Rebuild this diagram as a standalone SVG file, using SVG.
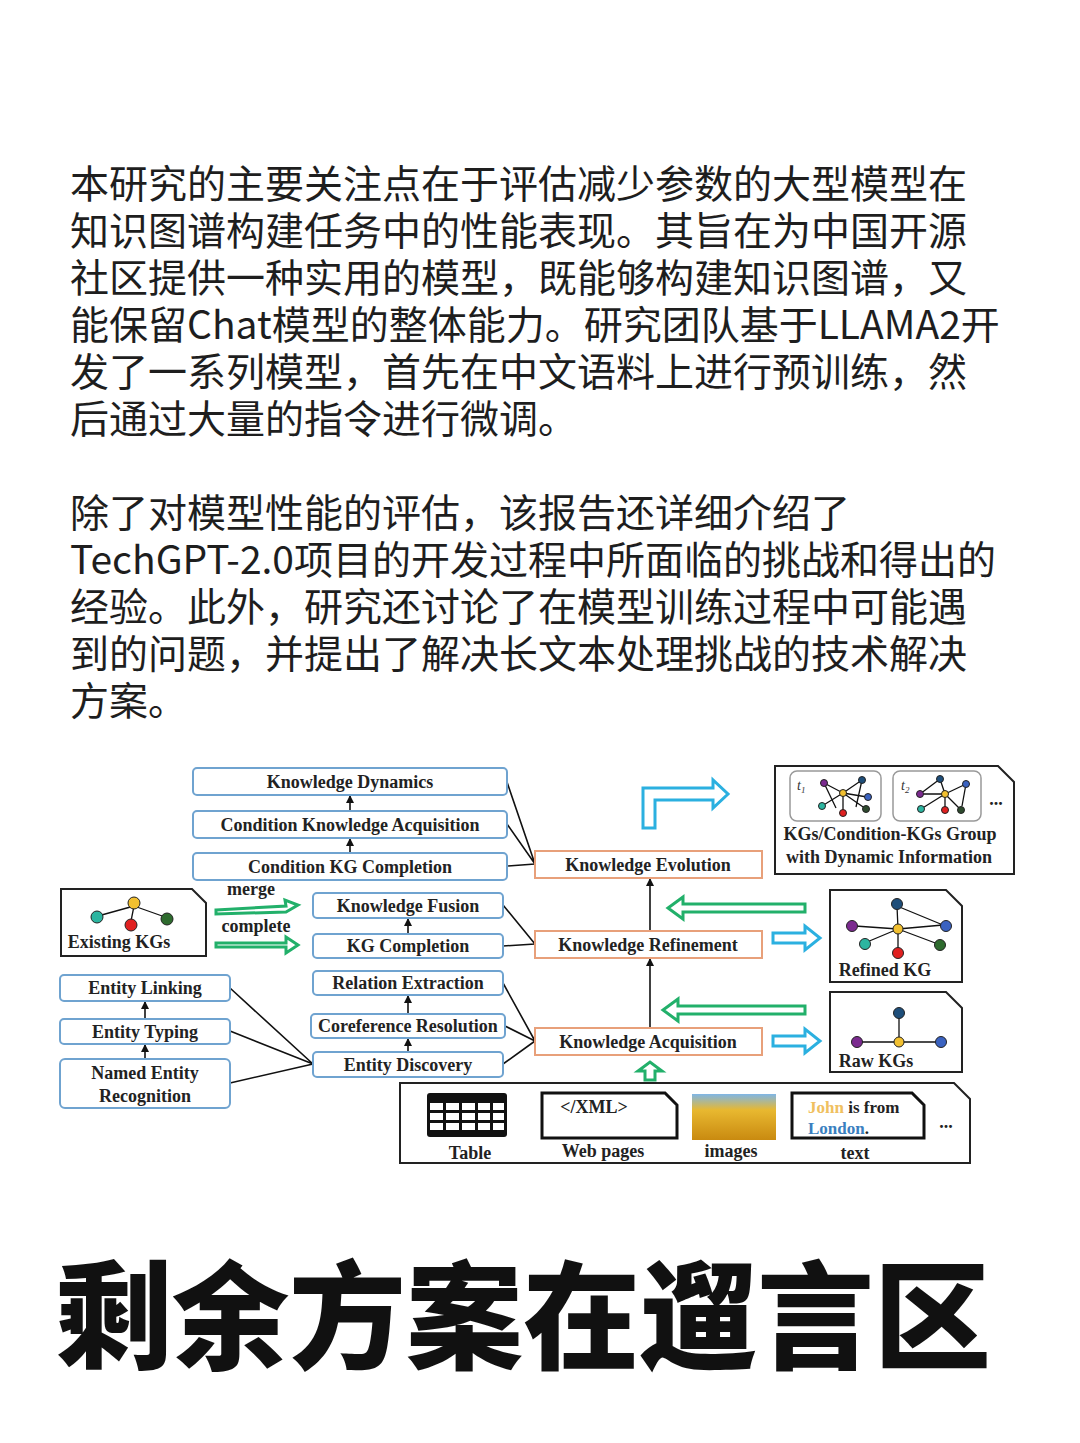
<svg xmlns="http://www.w3.org/2000/svg" width="1080" height="1443" viewBox="0 0 1080 1443">
<style>
.cn{font-family:"Noto Sans CJK SC","Noto Sans",sans-serif;font-size:39px;fill:#1e1e1e}
.big{font-family:"Noto Sans CJK SC",sans-serif;font-size:117px;font-weight:900;fill:#111}
.t{font-family:"Liberation Serif","Times New Roman",serif;font-weight:bold;font-size:18px;fill:#222;text-anchor:middle}
.bb{fill:#fff;stroke:#6fa3d0;stroke-width:2}
.ob{fill:#fff;stroke:#e8a07a;stroke-width:2}
.blk{fill:#fff;stroke:#222;stroke-width:2}
.ln{stroke:#111;stroke-width:1.6;fill:none}
.ga{fill:#fff;stroke:#22b06a;stroke-width:3}
.ca{fill:#fff;stroke:#2bb0e0;stroke-width:3}
.e{stroke:#111;stroke-width:1.3}
</style>
<defs>
<marker id="ah" markerWidth="8" markerHeight="8" refX="7" refY="4" orient="auto" markerUnits="userSpaceOnUse"><path d="M0,0 L8,4 L0,8 z" fill="#111"/></marker>
<linearGradient id="fl" x1="0" y1="0" x2="0" y2="1"><stop offset="0" stop-color="#7fb6e6"/><stop offset="0.35" stop-color="#e8b830"/><stop offset="1" stop-color="#c98a10"/></linearGradient>
</defs>
<rect width="1080" height="1443" fill="#fff"/>
<g id="para">
<text class="cn" x="70" y="198">本研究的主要关注点在于评估减少参数的大型模型在</text>
<text class="cn" x="70" y="245">知识图谱构建任务中的性能表现。其旨在为中国开源</text>
<text class="cn" x="70" y="292">社区提供一种实用的模型，既能够构建知识图谱，又</text>
<text class="cn" x="70" y="339">能保留Chat模型的整体能力。研究团队基于LLAMA2开</text>
<text class="cn" x="70" y="386">发了一系列模型，首先在中文语料上进行预训练，然</text>
<text class="cn" x="70" y="433">后通过大量的指令进行微调。</text>
<text class="cn" x="70" y="527">除了对模型性能的评估，该报告还详细介绍了</text>
<text class="cn" x="70" y="574">TechGPT-2.0项目的开发过程中所面临的挑战和得出的</text>
<text class="cn" x="70" y="621">经验。此外，研究还讨论了在模型训练过程中可能遇</text>
<text class="cn" x="70" y="668">到的问题，并提出了解决长文本处理挑战的技术解决</text>
<text class="cn" x="70" y="715">方案。</text>
</g>
<g id="connectors">
<path class="ln" d="M507,782 L535,864 M507,824 L535,864 M507,866 L535,864"/>
<path class="ln" d="M503,905 L535,944 M503,946 L535,944"/>
<path class="ln" d="M503,983 L535,1041 M505,1026 L535,1041 M503,1064 L535,1041"/>
<path class="ln" d="M230,988 L313,1064 M230,1031 L313,1064 M230,1083 L313,1064"/>
<path class="ln" marker-end="url(#ah)" d="M350,811 L350,796"/>
<path class="ln" marker-end="url(#ah)" d="M350,853 L350,839"/>
<path class="ln" marker-end="url(#ah)" d="M408,934 L408,919"/>
<path class="ln" marker-end="url(#ah)" d="M408,1014 L408,996"/>
<path class="ln" marker-end="url(#ah)" d="M408,1052 L408,1039"/>
<path class="ln" marker-end="url(#ah)" d="M145,1019 L145,1002"/>
<path class="ln" marker-end="url(#ah)" d="M145,1059 L145,1045"/>
<path class="ln" marker-end="url(#ah)" d="M650,1028 L650,959"/>
<path class="ln" marker-end="url(#ah)" d="M650,931 L650,879"/>
<polygon class="ga" points="216,910 286,906 285,900 298,905 286,912 286,912 216,914"/>
<polygon class="ga" points="216,943 286,943 286,937 298,945 286,953 286,947 216,947"/>
<polygon class="ga" points="805,904 683,904 683,897 668,908 683,919 683,912 805,912"/>
<polygon class="ga" points="805,1006 678,1006 678,999 663,1010 678,1021 678,1014 805,1014"/>
<polygon class="ca" points="773,933 805,933 805,926 820,938 805,950 805,943 773,943"/>
<polygon class="ca" points="773,1036 805,1036 805,1029 820,1041 805,1053 805,1046 773,1046"/>
<polygon class="ga" points="645,1080 655,1080 655,1071 662,1071 650,1062 638,1071 645,1071"/>
<polygon class="ca" points="643,828 655,828 655,800 713,800 713,808 728,794 713,780 713,788 643,788"/>
</g>
<g id="n-kd"><rect class="bb" x="193" y="768" width="314" height="27" rx="4"/><text class="t" x="350" y="788">Knowledge Dynamics</text></g>
<g id="n-cka"><rect class="bb" x="193" y="811" width="314" height="27" rx="4"/><text class="t" x="350" y="831">Condition Knowledge Acquisition</text></g>
<g id="n-ckc"><rect class="bb" x="193" y="853" width="314" height="27" rx="4"/><text class="t" x="350" y="873">Condition KG Completion</text></g>
<g id="n-kf"><rect class="bb" x="313" y="893" width="190" height="25" rx="4"/><text class="t" x="408" y="912">Knowledge Fusion</text></g>
<g id="n-kgc"><rect class="bb" x="313" y="934" width="190" height="24" rx="4"/><text class="t" x="408" y="952">KG Completion</text></g>
<g id="n-re"><rect class="bb" x="313" y="971" width="190" height="24" rx="4"/><text class="t" x="408" y="989">Relation Extraction</text></g>
<g id="n-cr"><rect class="bb" x="311" y="1014" width="194" height="24" rx="4"/><text class="t" x="408" y="1032">Coreference Resolution</text></g>
<g id="n-ed"><rect class="bb" x="313" y="1052" width="190" height="25" rx="4"/><text class="t" x="408" y="1071">Entity Discovery</text></g>
<g id="n-el"><rect class="bb" x="60" y="975" width="170" height="26" rx="4"/><text class="t" x="145" y="994">Entity Linking</text></g>
<g id="n-et"><rect class="bb" x="60" y="1019" width="170" height="25" rx="4"/><text class="t" x="145" y="1038">Entity Typing</text></g>
<g id="n-ner"><rect class="bb" x="60" y="1059" width="170" height="49" rx="5"/><text class="t" x="145" y="1079">Named Entity</text><text class="t" x="145" y="1102">Recognition</text></g>
<g id="n-ke"><rect class="ob" x="535" y="851" width="227" height="27"/><text class="t" x="648" y="871">Knowledge Evolution</text></g>
<g id="n-kr"><rect class="ob" x="535" y="931" width="227" height="27"/><text class="t" x="648" y="951">Knowledge Refinement</text></g>
<g id="n-ka"><rect class="ob" x="535" y="1028" width="227" height="27"/><text class="t" x="648" y="1048">Knowledge Acquisition</text></g>
<g id="labels"><text class="t" x="251" y="895">merge</text><text class="t" x="256" y="932">complete</text></g>
<g id="n-existing">
<path class="blk" d="M61,889 L192,889 L206,903 L206,956 L61,956 Z"/>
<path class="e" d="M134,906 L98,916 M134,906 L131,921 M134,906 L165,917"/>
<circle cx="134" cy="903" r="6" fill="#f2c030" stroke="#222"/><circle cx="97" cy="917" r="6" fill="#2cb5a0" stroke="#222"/><circle cx="131" cy="925" r="6" fill="#e02020" stroke="#222"/><circle cx="167" cy="919" r="6" fill="#2e6b2e" stroke="#222"/>
<text class="t" x="119" y="948">Existing KGs</text>
</g>
<g id="n-group">
<path class="blk" d="M775,766 L998,766 L1014,782 L1014,874 L775,874 Z"/>
<rect x="790" y="771" width="91" height="50" rx="7" fill="#fff" stroke="#999" stroke-width="1.5"/>
<rect x="893" y="771" width="88" height="50" rx="7" fill="#fff" stroke="#999" stroke-width="1.5"/>
<text x="797" y="790" font-family="Liberation Serif,serif" font-style="italic" font-size="14" fill="#333">t<tspan font-size="9" dy="3">1</tspan></text>
<text x="901" y="790" font-family="Liberation Serif,serif" font-style="italic" font-size="14" fill="#333">t<tspan font-size="9" dy="3">2</tspan></text>
<path class="e" d="M843,793 L824,783 M843,793 L822,806 M843,793 L843,813 M843,793 L862,780 M843,793 L867,797 M843,793 L866,809 M824,783 L836,808 M862,780 L856,807"/>
<circle cx="843" cy="793" r="3.5" fill="#f2c030" stroke="#222"/><circle cx="824" cy="783" r="3.5" fill="#7b2a8f" stroke="#222"/><circle cx="822" cy="806" r="3.5" fill="#2cb5a0" stroke="#222"/><circle cx="843" cy="813" r="3.5" fill="#e02020" stroke="#222"/><circle cx="862" cy="780" r="3.5" fill="#1e4e7a" stroke="#222"/><circle cx="868" cy="797" r="3.5" fill="#3a62c0" stroke="#222"/><circle cx="866" cy="809" r="3.5" fill="#2e4a2e" stroke="#222"/>
<path class="e" d="M945,794 L920,794 M945,794 L921,809 M945,794 L945,810 M945,794 L940,779 M945,794 L966,784 M945,794 L961,810 M920,794 L940,779 M966,784 L962,806"/>
<circle cx="945" cy="794" r="3.5" fill="#f2c030" stroke="#222"/><circle cx="920" cy="794" r="3.5" fill="#7b2a8f" stroke="#222"/><circle cx="921" cy="809" r="3.5" fill="#2cb5a0" stroke="#222"/><circle cx="945" cy="810" r="3.5" fill="#e02020" stroke="#222"/><circle cx="940" cy="779" r="3.5" fill="#1e4e7a" stroke="#222"/><circle cx="966" cy="784" r="3.5" fill="#3a62c0" stroke="#222"/><circle cx="961" cy="810" r="3.5" fill="#2e4a2e" stroke="#222"/>
<text class="t" x="996" y="805">...</text>
<text class="t" x="890" y="840">KGs/Condition-KGs Group</text>
<text class="t" x="889" y="863">with Dynamic Information</text>
</g>
<g id="n-refined">
<path class="blk" d="M830,890 L946,890 L962,906 L962,982 L830,982 Z"/>
<path class="e" d="M898,929 L855,926 M898,929 L867,942 M898,929 L898,950 M898,929 L897,906 M898,929 L943,925 M898,929 L938,944 M897,906 L943,925"/>
<circle cx="898" cy="929" r="5" fill="#f2c030" stroke="#222"/><circle cx="852" cy="926" r="5.5" fill="#7b2a8f" stroke="#222"/><circle cx="865" cy="944" r="5.5" fill="#2cb5a0" stroke="#222"/><circle cx="898" cy="953" r="5.5" fill="#e02020" stroke="#222"/><circle cx="897" cy="904" r="5.5" fill="#1e4e7a" stroke="#222"/><circle cx="946" cy="926" r="5.5" fill="#3a62c0" stroke="#222"/><circle cx="940" cy="945" r="5.5" fill="#2e6b2e" stroke="#222"/>
<text class="t" x="885" y="976">Refined KG</text>
</g>
<g id="n-raw">
<path class="blk" d="M830,992 L946,992 L962,1008 L962,1072 L830,1072 Z"/>
<path class="e" d="M899,1013 L899,1037 M860,1042 L938,1042"/>
<circle cx="899" cy="1042" r="5" fill="#f2c030" stroke="#222"/><circle cx="857" cy="1042" r="5.5" fill="#7b2a8f" stroke="#222"/><circle cx="941" cy="1042" r="5.5" fill="#3a62c0" stroke="#222"/><circle cx="899" cy="1013" r="5.5" fill="#1e4e7a" stroke="#222"/>
<text class="t" x="876" y="1067">Raw KGs</text>
</g>
<g id="n-sources">
<path class="blk" d="M400,1083 L954,1083 L970,1099 L970,1163 L400,1163 Z"/>
<rect x="427" y="1093" width="80" height="44" rx="3" fill="#111"/>
<g fill="#fff"><rect x="430" y="1103" width="13" height="7"/><rect x="446" y="1103" width="13" height="7"/><rect x="462" y="1103" width="13" height="7"/><rect x="478" y="1103" width="12" height="7"/><rect x="493" y="1103" width="11" height="7"/>
<rect x="430" y="1113" width="13" height="7"/><rect x="446" y="1113" width="13" height="7"/><rect x="462" y="1113" width="13" height="7"/><rect x="478" y="1113" width="12" height="7"/><rect x="493" y="1113" width="11" height="7"/>
<rect x="430" y="1123" width="13" height="7"/><rect x="446" y="1123" width="13" height="7"/><rect x="462" y="1123" width="13" height="7"/><rect x="478" y="1123" width="12" height="7"/><rect x="493" y="1123" width="11" height="7"/></g>
<text class="t" x="470" y="1159">Table</text>
<path d="M542,1093 L665,1093 L677,1105 L677,1138 L542,1138 Z" fill="#fff" stroke="#111" stroke-width="3"/>
<text class="t" x="594" y="1113">&lt;/XML&gt;</text>
<text class="t" x="603" y="1157">Web pages</text>
<rect x="692" y="1094" width="84" height="46" fill="url(#fl)"/>
<text class="t" x="731" y="1157">images</text>
<path d="M792,1093 L912,1093 L924,1105 L924,1138 L792,1138 Z" fill="#fff" stroke="#111" stroke-width="3"/>
<text x="808" y="1113" font-family="Liberation Serif,serif" font-weight="bold" font-size="17" fill="#f0c060">John <tspan fill="#222">is from</tspan></text>
<text x="808" y="1134" font-family="Liberation Serif,serif" font-weight="bold" font-size="17" fill="#3a7fc0">London<tspan fill="#222">.</tspan></text>
<text class="t" x="946" y="1128">...</text>
<text class="t" x="855" y="1159">text</text>
</g>
<g id="footer"><text class="big" x="55" y="1360">剩余方案在遛言区</text></g>
</svg>
